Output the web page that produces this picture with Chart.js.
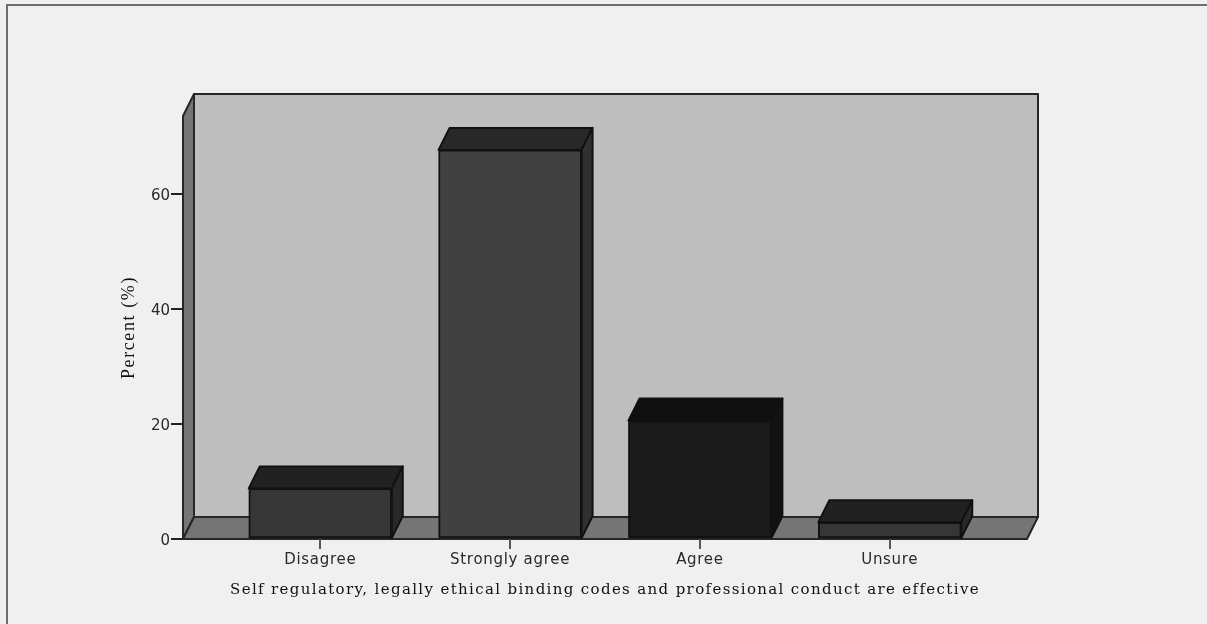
<!DOCTYPE html>
<html>
<head>
<meta charset="utf-8">
<style>
  html, body { margin: 0; padding: 0; background: #f0f0f0; overflow: hidden; }
  #frame { position: absolute; left: 6px; top: 4px; width: 1201px; height: 620px;
    border-top: 2px solid #6e6e6e; border-left: 2px solid #6e6e6e; box-sizing: border-box; }
  #chart { position: absolute; left: 0; top: 0; }
</style>
<script src="https://cdn.jsdelivr.net/npm/chart.js@4/dist/chart.umd.min.js"></script>
</head>
<body>
<div id="frame"></div>
<canvas id="chart" width="1207" height="624"></canvas>
<script>
const categories = ['Disagree', 'Strongly agree', 'Agree', 'Unsure'];
const percents = [8.8, 67.7, 20.6, 2.9];
const yTicks = [0, 20, 40, 60];

const frontColors = ['#363636', '#414141', '#1a1a1a', '#363636'];
const topColors = ['#212121', '#282828', '#101010', '#212121'];
const sideColors = ['#282828', '#303030', '#121212', '#282828'];

const depthX = 11;
const depthY = 22;
const edge = '#262626';

function poly(ctx, pts, fill, stroke, lineWidth) {
  ctx.beginPath();
  pts.forEach((p, i) => i ? ctx.lineTo(p[0], p[1]) : ctx.moveTo(p[0], p[1]));
  ctx.closePath();
  ctx.fillStyle = fill;
  ctx.fill();
  ctx.strokeStyle = stroke;
  ctx.lineWidth = lineWidth;
  ctx.lineJoin = 'round';
  ctx.stroke();
}

// Chart.js has no letter spacing option, so wrap the scale's text drawing
function spaceText(scale, method, spacing) {
  const key = '_spaced_' + method;
  if (scale[key]) return;
  scale[key] = true;
  const original = scale[method];
  scale[method] = function (...args) {
    this.ctx.letterSpacing = spacing;
    original.apply(this, args);
    this.ctx.letterSpacing = '0px';
  };
}

// back wall, left wall and floor of the 3D box
const boxPlugin = {
  id: 'box',
  beforeDraw(chart) {
    const ctx = chart.ctx;
    const a = chart.chartArea;
    ctx.save();
    poly(ctx, [[a.left + depthX, a.top - depthY], [a.right + depthX, a.top - depthY],
      [a.right + depthX, a.bottom - depthY], [a.left + depthX, a.bottom - depthY]], '#bebebe', edge, 2);
    poly(ctx, [[a.left, a.top], [a.left + depthX, a.top - depthY],
      [a.left + depthX, a.bottom - depthY], [a.left, a.bottom]], '#757575', edge, 2);
    poly(ctx, [[a.left, a.bottom], [a.left + depthX, a.bottom - depthY],
      [a.right + depthX, a.bottom - depthY], [a.right, a.bottom]], '#757575', edge, 2);
    ctx.restore();
  }
};

// top and side faces of each bar, behind the front face Chart.js draws
const barDepthPlugin = {
  id: 'barDepth',
  beforeDatasetsDraw(chart) {
    const ctx = chart.ctx;
    const bars = chart.getDatasetMeta(0).data;
    ctx.save();
    bars.forEach((bar, i) => {
      const l = bar.x - bar.width / 2;
      const r = bar.x + bar.width / 2;
      poly(ctx, [[l, bar.y], [l + depthX, bar.y - depthY], [r + depthX, bar.y - depthY], [r, bar.y]],
        topColors[i], '#111', 2);
      poly(ctx, [[r, bar.y], [r + depthX, bar.y - depthY], [r + depthX, bar.base - depthY], [r, bar.base]],
        sideColors[i], '#111', 2);
    });
    ctx.restore();
  }
};

new Chart(document.getElementById('chart'), {
  type: 'bar',
  data: {
    datasets: [{
      data: percents.map((p, i) => ({ x: i, y: p })),
      backgroundColor: frontColors,
      borderColor: '#111',
      borderWidth: 2,
      borderSkipped: false,
      barThickness: 143
    }]
  },
  plugins: [boxPlugin, barDepthPlugin],
  options: {
    responsive: false,
    animation: false,
    layout: { padding: { left: 118, right: 180, top: 116, bottom: 0 } },
    plugins: { legend: { display: false }, tooltip: { enabled: false } },
    scales: {
      x: {
        type: 'linear',
        offset: false,
        min: -0.723,
        max: 3.723,
        afterBuildTicks(scale) { scale.ticks = categories.map((c, i) => ({ value: i })); },
        afterFit(scale) {
          scale.height = 85;
          spaceText(scale, 'drawLabels', '0.7px');
          spaceText(scale, 'drawTitle', '1.35px');
        },
        border: { display: false },
        grid: { offset: false, drawOnChartArea: false, tickLength: 10, color: '#555', lineWidth: 2 },
        ticks: {
          autoSkip: false,
          maxRotation: 0,
          padding: 2,
          color: '#2a2a2a',
          font: { family: 'DejaVu Sans', size: 15 },
          callback: v => categories[v]
        },
        title: {
          display: true,
          text: 'Self regulatory, legally ethical binding codes and professional conduct are effective',
          color: '#111',
          padding: { top: 6, bottom: 25 },
          font: { family: 'DejaVu Serif', size: 15 }
        }
      },
      y: {
        min: 0,
        max: 73.6,
        afterBuildTicks(scale) { scale.ticks = yTicks.map(v => ({ value: v })); },
        afterFit(scale) {
          scale.width = 65;
          spaceText(scale, 'drawTitle', '1.6px');
        },
        border: { display: false },
        grid: { drawOnChartArea: false, tickLength: 12, color: '#222', lineWidth: 2 },
        ticks: {
          padding: 1,
          labelOffset: 2,
          color: '#2a2a2a',
          font: { family: 'DejaVu Sans', size: 15 }
        },
        title: {
          display: true,
          text: 'Percent (%)',
          color: '#111',
          padding: 0,
          font: { family: 'Liberation Serif', size: 18 }
        }
      }
    }
  }
});
</script>
</body>
</html>
